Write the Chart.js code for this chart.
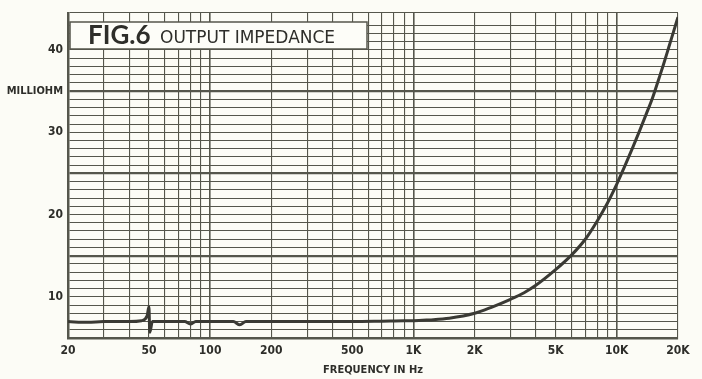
<!DOCTYPE html>
<html>
<head>
<meta charset="utf-8">
<script src="https://cdn.jsdelivr.net/npm/chart.js@4.4.1/dist/chart.umd.min.js"></script>
<style>
  html, body { margin: 0; padding: 0; background: #fcfcf6; }
  #wrap { width: 702px; height: 379px; }
</style>
</head>
<body>
<div id="wrap"><canvas id="chart" width="702" height="379"></canvas></div>
<script>
// Frequency (Hz) and output impedance (milliohm)
const freqs = [20, 25, 30, 40, 46, 49, 50, 50.5, 52, 60, 75, 80, 85, 130, 140, 150,
  300, 500, 700, 900, 1000, 1200, 1500, 2000, 2400, 3000, 3500, 4000, 5000,
  6000, 7000, 8000, 9000, 10000, 11000, 12000, 13000, 14000, 15000, 16000, 17000, 18000, 19000, 20000];
const impedance = [7.0, 6.9, 7.0, 7.0, 7.1, 7.7, 8.8, 5.7, 7.0, 7.0, 7.0, 6.7, 7.0, 7.0, 6.6, 7.0,
  7.0, 7.0, 7.05, 7.1, 7.1, 7.2, 7.4, 8.0, 8.7, 9.7, 10.5, 11.4, 13.3,
  15.1, 17.0, 19.2, 21.4, 23.7, 26.0, 28.2, 30.3, 32.3, 34.2, 36.3, 38.3, 40.3, 42.2, 44.0];

// X grid lines and the labelled ones
const xGrid = [20, 30, 40, 50, 60, 70, 80, 90, 100, 200, 300, 400, 500, 600, 700, 800, 900,
  1000, 2000, 3000, 4000, 5000, 6000, 7000, 8000, 9000, 10000, 20000];
const xTickValues = [20, 50, 100, 200, 500, 1000, 2000, 5000, 10000, 20000];
const xTickLabels = ['20', '50', '100', '200', '500', '1K', '2K', '5K', '10K', '20K'];
const yTickValues = [10, 20, 30, 40];
const yThick = [15, 25, 35];

const gridColor = '#55564c';
const inkColor = '#3a3a34';
const tickFont = { family: '"DejaVu Sans Condensed", "DejaVu Sans", sans-serif', size: 12, weight: 'bold' };

// title box drawn over the grid
const titleBox = {
  id: 'titleBox',
  afterDraw(chart) {
    const ctx = chart.ctx;
    const a = chart.chartArea;
    ctx.save();
    ctx.fillStyle = '#fdfdf8';
    ctx.fillRect(a.left + 2, 22, 297, 27);
    ctx.strokeStyle = gridColor;
    ctx.lineWidth = 1.5;
    ctx.strokeRect(a.left + 2, 22, 297, 27);
    ctx.fillStyle = '#2e2e2a';
    ctx.textBaseline = 'alphabetic';
    ctx.font = 'bold 26px Lato, "DejaVu Sans", sans-serif';
    ctx.fillText('FIG.6', 88, 44, 64);
    ctx.font = '17px "DejaVu Sans", sans-serif';
    ctx.fillText('OUTPUT IMPEDANCE', 160, 43, 200);
    ctx.restore();
  }
};

new Chart(document.getElementById('chart'), {
  type: 'line',
  data: {
    datasets: [{
      data: freqs.map((f, i) => ({ x: f, y: impedance[i] })),
      borderColor: inkColor,
      borderWidth: 3,
      pointRadius: 0,
      cubicInterpolationMode: 'monotone',
      fill: false
    }]
  },
  options: {
    responsive: false,
    animation: false,
    layout: { padding: { top: 13, right: 24, left: 0, bottom: 0 } },
    plugins: { legend: { display: false }, tooltip: { enabled: false } },
    scales: {
      x: {
        type: 'logarithmic',
        min: 20,
        max: 20000,
        afterBuildTicks: scale => { scale.ticks = xGrid.map(v => ({ value: v })); },
        afterFit: scale => { scale.height = 41; },
        border: { color: gridColor, width: 2.5 },
        grid: {
          color: gridColor,
          drawTicks: false,
          lineWidth: c => ([100, 1000, 10000].includes(c.tick && c.tick.value) ? 1.6 : 1.1)
        },
        ticks: {
          autoSkip: false,
          maxRotation: 0,
          padding: 6,
          color: '#2e2e2a',
          font: tickFont,
          callback: value => {
            const i = xTickValues.indexOf(value);
            return i >= 0 ? xTickLabels[i] : '';
          }
        },
        title: {
          display: true,
          text: 'FREQUENCY IN Hz',
          color: '#2e2e2a',
          font: { family: '"DejaVu Sans Condensed", "DejaVu Sans", sans-serif', size: 11, weight: 'bold' },
          padding: { top: 0, bottom: 2 }
        }
      },
      y: {
        min: 5,
        max: 44.5,
        afterFit: scale => { scale.width = 68; },
        border: { color: gridColor, width: 2.5 },
        grid: {
          color: gridColor,
          drawTicks: false,
          lineWidth: c => (yThick.includes(c.tick && c.tick.value) ? 2.2 : 1.1)
        },
        ticks: {
          stepSize: 1,
          autoSkip: false,
          padding: 5,
          color: '#2e2e2a',
          font: c => (c.tick && c.tick.value === 35 ? { family: tickFont.family, size: 11, weight: 'bold' } : tickFont),
          callback: value => {
            if (value === 35) return 'MILLIOHM';
            return yTickValues.includes(value) ? String(value) : '';
          }
        }
      }
    }
  },
  plugins: [titleBox]
});
</script>
</body>
</html>
